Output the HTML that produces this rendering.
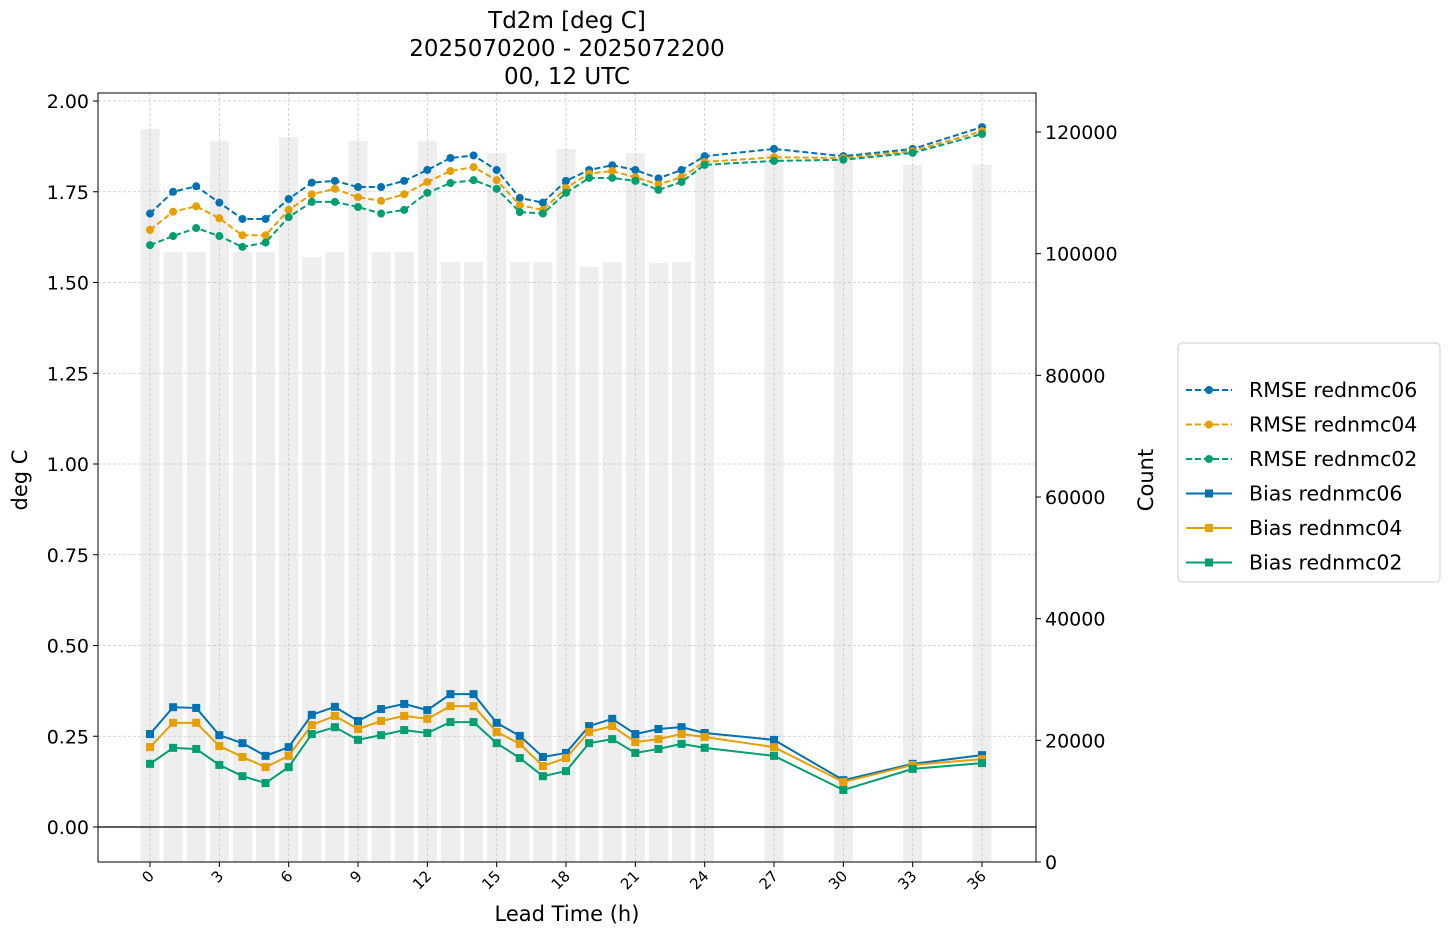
<!DOCTYPE html>
<html><head><meta charset="utf-8"><style>
body{margin:0;background:#fff;font-family:"Liberation Sans","DejaVu Sans",sans-serif;}
svg text{font-family:"DejaVu Sans","Liberation Sans",sans-serif;}
</style></head><body>
<svg id="chart" width="1449" height="936" xmlns="http://www.w3.org/2000/svg"></svg>
<script>
const hours=[0,1,2,3,4,5,6,7,8,9,10,11,12,13,14,15,16,17,18,19,20,21,22,23,24,27,30,33,36];
const counts=[120490,100270,100270,118520,100270,100270,119180,99450,100270,118520,100270,100270,118520,98630,98630,116550,98630,98630,117200,97810,98630,116550,98450,98630,116550,116550,116550,114580,114620];
const rmse06=[1.69,1.75,1.765,1.72,1.675,1.675,1.73,1.775,1.78,1.763,1.763,1.78,1.81,1.843,1.85,1.81,1.733,1.72,1.78,1.81,1.823,1.81,1.787,1.81,1.848,1.868,1.848,1.868,1.928];
const rmse04=[1.645,1.695,1.71,1.677,1.63,1.63,1.70,1.743,1.758,1.735,1.725,1.743,1.777,1.807,1.818,1.782,1.713,1.70,1.76,1.80,1.807,1.79,1.77,1.79,1.832,1.845,1.843,1.862,1.917];
const rmse02=[1.603,1.628,1.65,1.628,1.598,1.61,1.68,1.722,1.722,1.708,1.69,1.70,1.747,1.774,1.782,1.758,1.694,1.69,1.747,1.788,1.788,1.78,1.755,1.777,1.824,1.835,1.838,1.857,1.909];
const bias06=[0.256,0.33,0.328,0.253,0.231,0.196,0.22,0.309,0.331,0.292,0.325,0.339,0.322,0.366,0.366,0.287,0.251,0.193,0.204,0.278,0.298,0.256,0.27,0.275,0.259,0.24,0.129,0.174,0.198];
const bias04=[0.22,0.287,0.287,0.223,0.193,0.165,0.196,0.281,0.306,0.27,0.292,0.306,0.298,0.333,0.333,0.262,0.229,0.168,0.19,0.262,0.278,0.234,0.242,0.256,0.248,0.22,0.124,0.171,0.187];
const bias02=[0.174,0.218,0.215,0.171,0.14,0.121,0.165,0.256,0.275,0.24,0.253,0.267,0.259,0.289,0.289,0.231,0.19,0.14,0.154,0.231,0.242,0.204,0.215,0.229,0.218,0.196,0.102,0.16,0.176];
const yTicks=[0,0.25,0.5,0.75,1.0,1.25,1.5,1.75,2.0];
const cTicks=[0,20000,40000,60000,80000,100000,120000];
const xTicks=[0,3,6,9,12,15,18,21,24,27,30,33,36];

const L=98,R=1036,T=93,B=862;
const X=h=>150+h*(982-150)/36;
const Y=v=>827-v*363;
const YC=c=>862-c*(730/120000);
const NS="http://www.w3.org/2000/svg";
const svg=document.getElementById('chart');
function el(tag,attrs,parent){const e=document.createElementNS(NS,tag);for(const k in attrs)e.setAttribute(k,attrs[k]);(parent||svg).appendChild(e);return e;}
function txt(s,attrs){const e=el('text',attrs);e.textContent=s;return e;}

hours.forEach((h,i)=>{const y=YC(counts[i]);
 const b=el('rect',{x:X(h)-9.5,y:y,width:19,height:862-y,fill:'#eeeeee'});
 
 });
xTicks.forEach(t=>el('line',{x1:X(t),x2:X(t),y1:T,y2:B,stroke:'#c8c8c8','stroke-width':0.8,'stroke-dasharray':'3,2'}));
yTicks.forEach(t=>el('line',{x1:L,x2:R,y1:Y(t),y2:Y(t),stroke:'#c8c8c8','stroke-width':0.8,'stroke-dasharray':'3,2'}));
el('line',{x1:L,x2:R,y1:Y(0),y2:Y(0),stroke:'#000','stroke-width':1.3});

const series=[
 {n:'RMSE rednmc06',d:rmse06,c:'#0072B2',dash:'6,3',m:'c'},
 {n:'RMSE rednmc04',d:rmse04,c:'#E69F00',dash:'6,3',m:'c'},
 {n:'RMSE rednmc02',d:rmse02,c:'#009E73',dash:'6,3',m:'c'},
 {n:'Bias rednmc06',d:bias06,c:'#0072B2',dash:'',m:'s'},
 {n:'Bias rednmc04',d:bias04,c:'#E69F00',dash:'',m:'s'},
 {n:'Bias rednmc02',d:bias02,c:'#009E73',dash:'',m:'s'}];
function marker(m,x,y,c,p){ if(m=='c') return el('circle',{cx:x,cy:y,r:4,fill:c},p); return el('rect',{x:x-4,y:y-4,width:8,height:8,fill:c},p);}
series.forEach(s=>{
 const g=el('g',{});
 
 
 el('polyline',{points:hours.map((h,i)=>X(h)+','+Y(s.d[i])).join(' '),fill:'none',stroke:s.c,'stroke-width':2,'stroke-dasharray':s.dash},g);
 hours.forEach((h,i)=>marker(s.m,X(h),Y(s.d[i]),s.c,g));
});
el('rect',{x:L,y:T,width:R-L,height:B-T,fill:'none',stroke:'#000','stroke-width':1});
yTicks.forEach(t=>{el('line',{x1:L-5,x2:L,y1:Y(t),y2:Y(t),stroke:'#000'});
 txt(t.toFixed(2),{x:L-9,y:Y(t)+7,'text-anchor':'end','font-size':19});});
cTicks.forEach(t=>{el('line',{x1:R,x2:R+5,y1:YC(t),y2:YC(t),stroke:'#000'});
 txt(String(t),{x:R+9,y:YC(t)+7,'font-size':19});});
xTicks.forEach(t=>{el('line',{x1:X(t),x2:X(t),y1:B,y2:B+5,stroke:'#000'});
 txt(String(t),{x:X(t)+5,y:B+15,'text-anchor':'end','font-size':15,transform:`rotate(-45 ${X(t)+5} ${B+15})`});});
txt('Td2m [deg C]',{x:567,y:28,'text-anchor':'middle','font-size':23});
txt('2025070200 - 2025072200',{x:567,y:56,'text-anchor':'middle','font-size':23});
txt('00, 12 UTC',{x:567,y:84,'text-anchor':'middle','font-size':23});
txt('Lead Time (h)',{x:567,y:921,'text-anchor':'middle','font-size':21});
txt('deg C',{x:27,y:480,'text-anchor':'middle','font-size':21,transform:'rotate(-90 27 480)'});
txt('Count',{x:1153,y:480,'text-anchor':'middle','font-size':21,transform:'rotate(-90 1153 480)'});
const lg=el('g',{});


el('rect',{x:1178,y:343,width:262,height:239,rx:4,fill:'#fff',stroke:'#ccc'},lg);
series.forEach((s,i)=>{const y=390+i*34.5;
 el('line',{x1:1186,x2:1232,y1:y,y2:y,stroke:s.c,'stroke-width':2,'stroke-dasharray':s.dash},lg);
 marker(s.m,1209,y,s.c,lg);
 const t=el('text',{x:1249,y:y+7,'font-size':20.5},lg);t.textContent=s.n;});
</script>
</body></html>
